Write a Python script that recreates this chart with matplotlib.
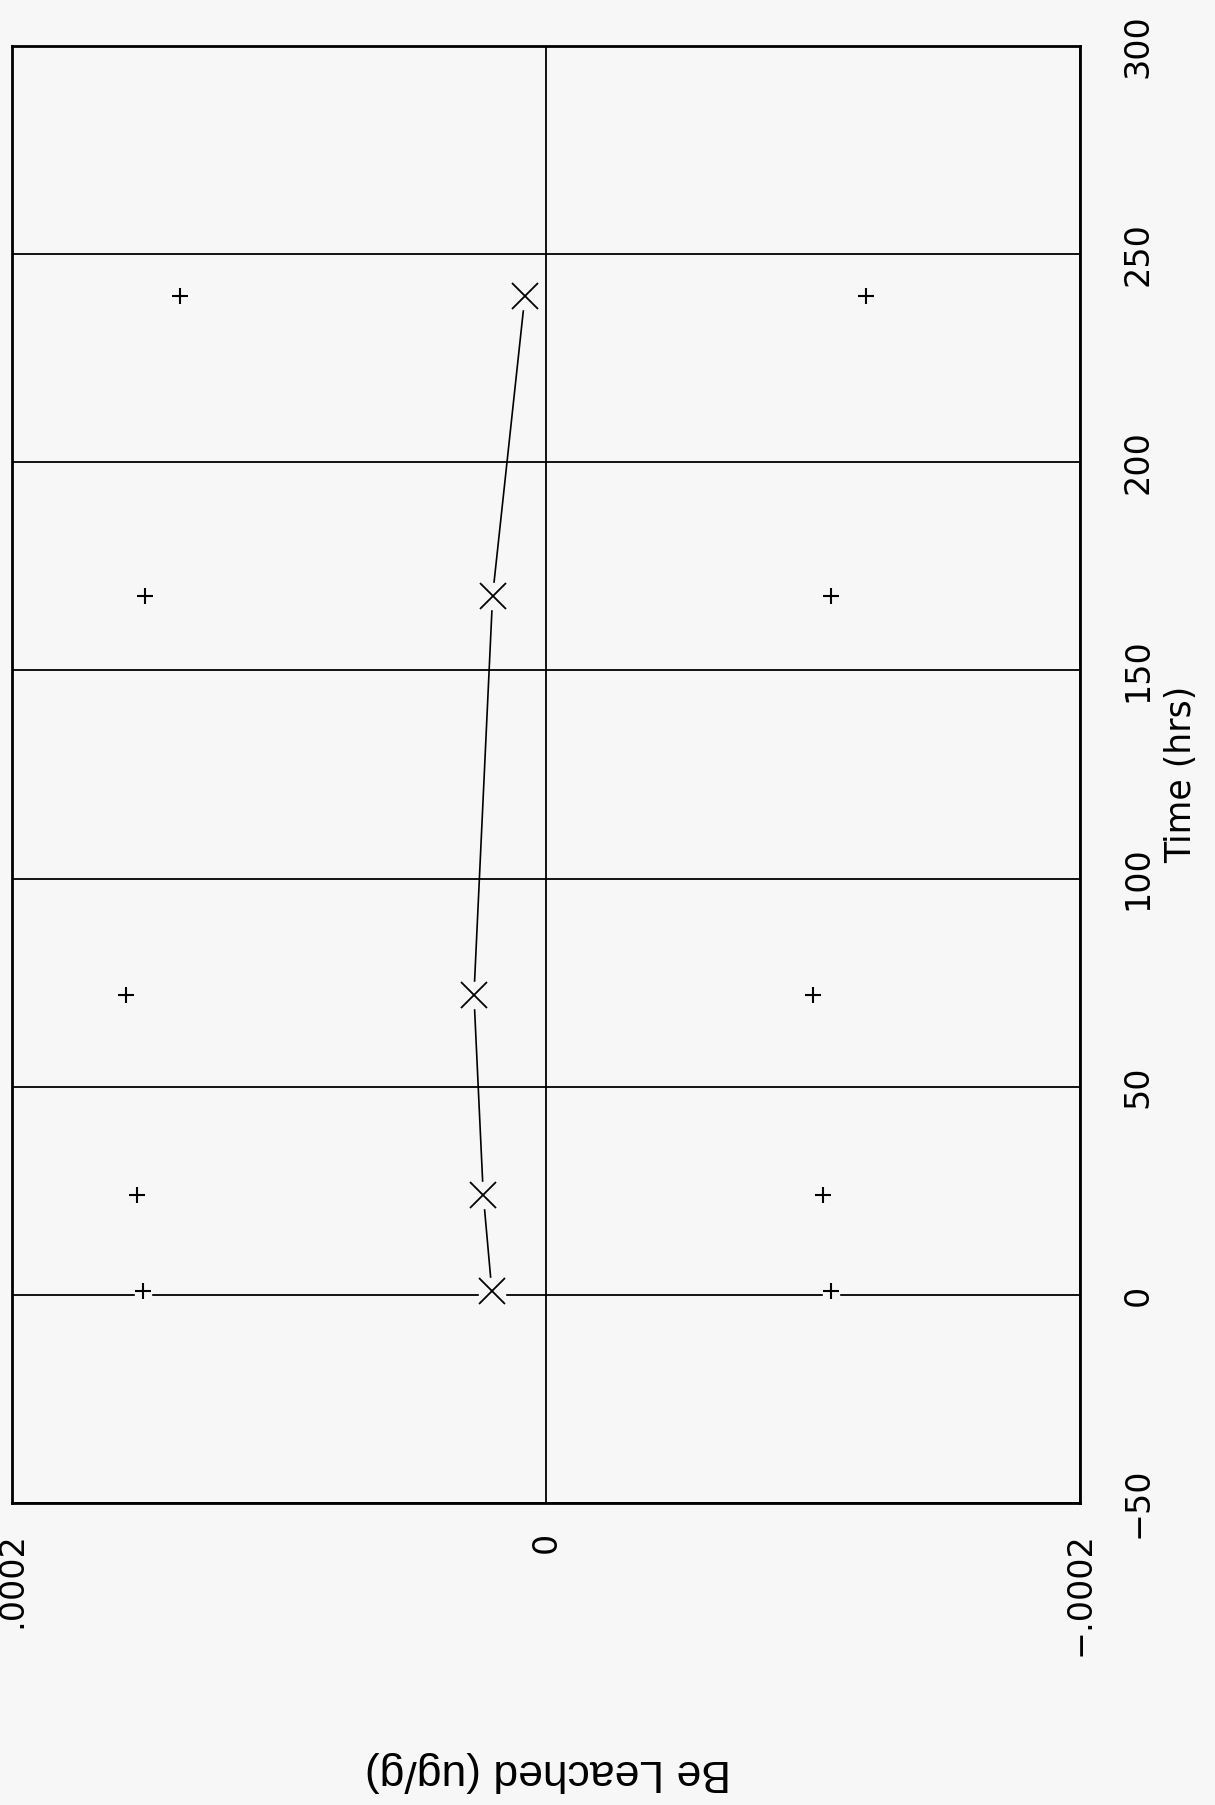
import matplotlib
matplotlib.use("Agg")
import matplotlib.pyplot as plt

# Scanned page is turned on its side: time runs up the page,
# Be leached runs across it (positive to the left).

# sample times (hrs)
TIME_HRS = [1, 24, 72, 168, 240]
# Be leached (ug/g)
BE_MEAN = [0.203e-4, 0.235e-4, 0.270e-4, 0.200e-4, 0.079e-4]
BE_UPPER = [1.508e-4, 1.532e-4, 1.575e-4, 1.501e-4, 1.372e-4]
BE_LOWER = [-1.067e-4, -1.039e-4, -1.000e-4, -1.069e-4, -1.199e-4]

TIME_TICKS = [-50, 0, 50, 100, 150, 200, 250, 300]
TIME_TICK_LABELS = ["\u221250", "0", "50", "100", "150", "200", "250", "300"]
BE_TICKS = [0.0002, 0, -0.0002]
BE_TICK_LABELS = [".0002", "0", "\u2212.0002"]

BG = "#f7f7f7"


def create_plot():
  fig = plt.figure(figsize=(12.15, 18.05), dpi=100, facecolor=BG)
  ax = fig.add_axes([0.0099, 0.1673, 0.879, 0.8072], facecolor=BG)

  # mean line, with a gap cut round each marker
  ax.plot(BE_MEAN, TIME_HRS, color="black", lw=1.2, zorder=3)
  ax.plot(BE_MEAN, TIME_HRS, ls="none", marker="s", ms=19,
          mfc=BG, mec=BG, zorder=4)
  ax.plot(BE_MEAN, TIME_HRS, ls="none", marker="x", ms=19,
          mec="black", mew=1.3, zorder=5)

  # upper / lower bounds
  for vals in (BE_UPPER, BE_LOWER):
    ax.plot(vals, TIME_HRS, ls="none", marker="s", ms=12,
            mfc=BG, mec=BG, zorder=4)
    ax.plot(vals, TIME_HRS, ls="none", marker="+", ms=12,
            mec="black", mew=1.5, zorder=5)

  ax.set_xlim(0.0002, -0.0002)
  ax.set_ylim(-50, 300)

  ax.set_xticks(BE_TICKS)
  ax.set_xticklabels(BE_TICK_LABELS, rotation=90, va="top", ha="center")
  ax.yaxis.tick_right()
  ax.set_yticks(TIME_TICKS)
  ax.set_yticklabels(TIME_TICK_LABELS, rotation=90, va="center", ha="left")
  ax.tick_params(axis="both", length=0, labelsize=24)
  ax.tick_params(axis="x", pad=21)
  ax.tick_params(axis="y", pad=30)

  ax.set_axisbelow(True)
  ax.grid(True, color="black", lw=1.3)
  for s in ax.spines.values():
    s.set_linewidth(2)

  ax.set_xlabel("Be Leached (ug/g)", rotation=180, fontsize=32,
                family="Liberation Sans")
  ax.xaxis.set_label_coords(0.502, -0.1846)
  ax.xaxis.label.set_va("center")

  ax.yaxis.set_label_position("right")
  ax.set_ylabel("Time (hrs)", rotation=90, fontsize=25)
  ax.yaxis.set_label_coords(1.095, 0.5)
  ax.yaxis.label.set_rotation_mode("default")
  ax.yaxis.label.set_va("center")
  ax.yaxis.label.set_ha("center")

  fig.savefig("out.png", dpi=100, facecolor=BG)


if __name__ == "__main__":
  create_plot()
